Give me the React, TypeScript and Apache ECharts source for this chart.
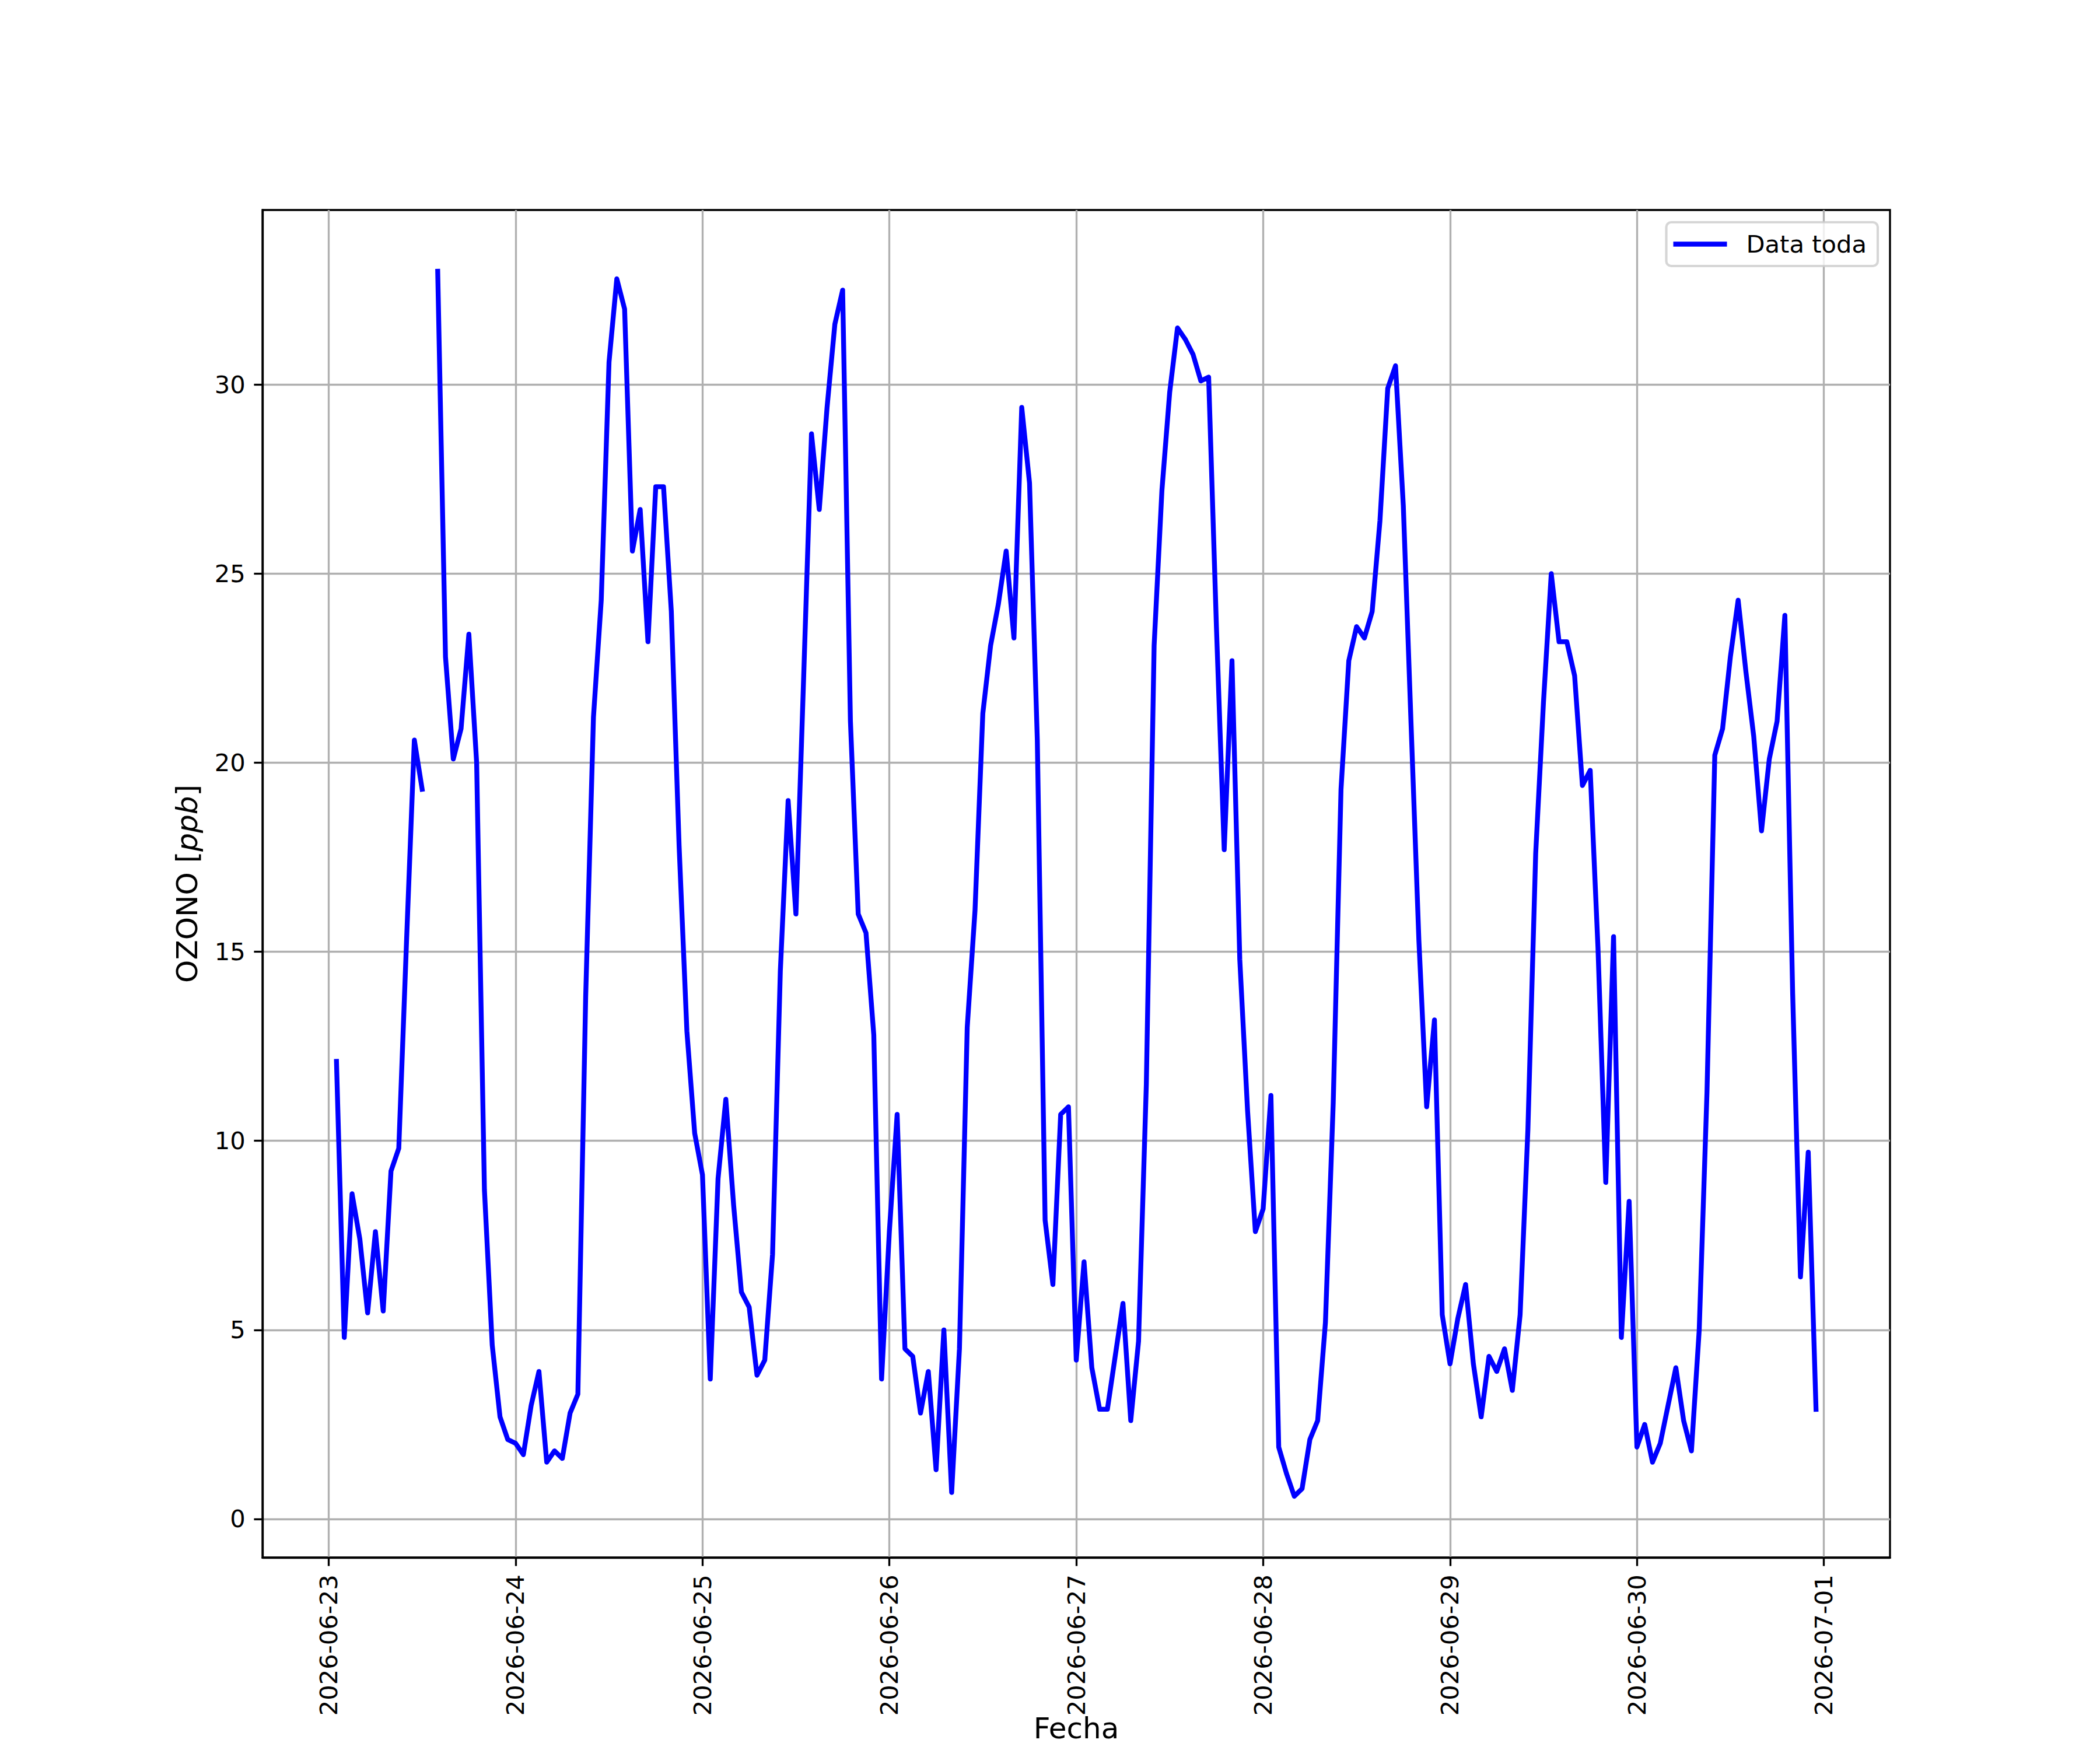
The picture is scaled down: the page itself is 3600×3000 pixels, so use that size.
import React, { useEffect, useRef } from 'react';
import * as echarts from 'echarts';

// ---- data (hourly ozone, ppb) ----
const startDay = Date.UTC(2026, 5, 23); // 2026-06-23 00:00
const firstHour = 1; // first sample at 01:00

const jun23 = [12.1, 4.8, 8.6, 7.4, 5.45, 7.6, 5.5, 9.2, 9.8, 15.3, 20.6, 19.3, null, 33.0, 22.8, 20.1, 20.9, 23.4, 20.0, 8.7, 4.6, 2.7, 2.1];
const jun24 = [2.0, 1.7, 3.0, 3.9, 1.5, 1.8, 1.6, 2.8, 3.3, 13.8, 21.2, 24.3, 30.6, 32.8, 32.0, 25.6, 26.7, 23.2, 27.3, 27.3, 24.0, 17.8, 12.9, 10.2];
const jun25 = [9.1, 3.7, 9.0, 11.1, 8.3, 6.0, 5.6, 3.8, 4.2, 7.0, 14.5, 19.0, 16.0, 22.3, 28.7, 26.7, 29.4, 31.6, 32.5, 21.1, 16.0, 15.5, 12.8, 3.7];
const jun26 = [7.6, 10.7, 4.5, 4.3, 2.8, 3.9, 1.3, 5.0, 0.7, 4.5, 13.0, 16.1, 21.3, 23.1, 24.2, 25.6, 23.3, 29.4, 27.4, 20.6, 7.9, 6.2, 10.7, 10.9];
const jun27 = [4.2, 6.8, 4.0, 2.9, 2.9, 4.3, 5.7, 2.6, 4.7, 11.5, 23.1, 27.2, 29.8, 31.5, 31.2, 30.8, 30.1, 30.2, 23.6, 17.7, 22.7, 14.8, 10.8, 7.6];
const jun28 = [8.2, 11.2, 1.9, 1.2, 0.6, 0.8, 2.1, 2.6, 5.2, 11.0, 19.3, 22.7, 23.6, 23.3, 24.0, 26.4, 29.9, 30.5, 26.8, 21.0, 15.3, 10.9, 13.2, 5.4];
const jun29 = [4.1, 5.3, 6.2, 4.1, 2.7, 4.3, 3.9, 4.5, 3.4, 5.4, 10.3, 17.6, 21.6, 25.0, 23.2, 23.2, 22.3, 19.4, 19.8, 15.1, 8.9, 15.4, 4.8, 8.4];
const jun30 = [1.9, 2.5, 1.5, 2.0, 3.0, 4.0, 2.6, 1.8, 5.0, 11.3, 20.2, 20.9, 22.8, 24.3, 22.4, 20.7, 18.2, 20.1, 21.1, 23.9, 13.9, 6.4, 9.7, 2.9];

const dayTicks = ['2026-06-23', '2026-06-24', '2026-06-25', '2026-06-26', '2026-06-27', '2026-06-28', '2026-06-29', '2026-06-30', '2026-07-01'];
const yTicks = [0, 5, 10, 15, 20, 25, 30];

const seriesName = 'Data toda';
const xTitle = 'Fecha';

// ---- layout / style ----
const W = 3600;
const H = 3000;
const PT = 300 / 72;
const FONT = 'DejaVu Sans';
const HOUR = 3600 * 1000;

function fmtDate(v: number) {
  const d = new Date(Math.round(v / HOUR) * HOUR);
  const mm = String(d.getUTCMonth() + 1).padStart(2, '0');
  const dd = String(d.getUTCDate()).padStart(2, '0');
  return `${d.getUTCFullYear()}-${mm}-${dd}`;
}

export default function App() {
  const ref = useRef<HTMLDivElement>(null);

  useEffect(() => {
    document.body.style.margin = '0';
    if (!ref.current) return;
    const chart = echarts.init(ref.current, undefined, { renderer: 'svg' });

    const values = [...jun23, ...jun24, ...jun25, ...jun26, ...jun27, ...jun28, ...jun29, ...jun30];
    const data = values.map((v, i) => [startDay + (firstHour + i) * HOUR, v == null ? '-' : v]);
    const tickTimes = dayTicks.map((s) => Date.parse(s + 'T00:00:00Z'));

    const lastHour = firstHour + values.length - 1;
    const span = lastHour - firstHour;
    const xMin = startDay + (firstHour - 0.05 * span) * HOUR;
    const xMax = startDay + (lastHour + 0.05 * span) * HOUR;

    const axisLine = { show: true, onZero: false, lineStyle: { color: '#000', width: 0.8 * PT } };
    const axisTick = { show: true, length: 3.5 * PT, lineStyle: { color: '#000', width: 0.8 * PT } };
    const splitLine = { show: true, lineStyle: { color: '#b0b0b0', width: 0.8 * PT } };
    const labelStyle = { fontFamily: FONT, fontSize: 10 * PT, color: '#000' };
    const titleStyle = { fontFamily: FONT, fontSize: 12 * PT, color: '#000' };

    chart.setOption({
      animation: false,
      backgroundColor: '#ffffff',
      textStyle: { fontFamily: FONT },
      grid: {
        left: 450,
        top: 360,
        width: 2790,
        height: 2310,
        containLabel: false,
        outerBoundsMode: 'none',
        show: true,
        borderColor: '#000',
        borderWidth: 0.8 * PT,
        backgroundColor: 'transparent',
      },
      legend: {
        show: true,
        right: 381,
        top: 381,
        orient: 'horizontal',
        icon: 'rect',
        itemWidth: 92,
        itemHeight: 2 * PT,
        itemGap: 0,
        padding: [16, 19, 16, 12],
        backgroundColor: 'rgba(255,255,255,0.8)',
        borderColor: 'rgba(204,204,204,0.8)',
        borderWidth: 1 * PT,
        borderRadius: 2 * PT,
        textStyle: { ...labelStyle, padding: [0, 0, 0, 28], lineHeight: 43 },
        data: [seriesName],
      },
      xAxis: {
        type: 'value',
        min: xMin,
        max: xMax,
        name: xTitle,
        nameLocation: 'middle',
        nameGap: 270,
        nameMoveOverlap: false,
        nameTextStyle: { ...titleStyle, lineHeight: 46 },
        axisLine,
        axisTick: { ...axisTick, customValues: tickTimes },
        axisLabel: {
          ...labelStyle,
          customValues: tickTimes,
          rotate: 90,
          margin: 7 * PT,
          formatter: (v: number) => fmtDate(v),
        },
        splitLine,
      },
      yAxis: {
        type: 'value',
        min: -1.02,
        max: 34.62,
        name: 'OZONO [{i|ppb}]',
        nameLocation: 'middle',
        nameGap: 104,
        nameTextStyle: {
          ...titleStyle,
          rich: { i: { fontFamily: FONT, fontSize: 12 * PT, fontStyle: 'italic', color: '#000' } },
        },
        axisLine,
        axisTick: { ...axisTick, customValues: yTicks },
        axisLabel: { ...labelStyle, customValues: yTicks, margin: 7 * PT },
        splitLine,
      },
      series: [
        {
          name: seriesName,
          type: 'line',
          data,
          showSymbol: false,
          symbol: 'none',
          connectNulls: false,
          itemStyle: { color: '#0000ff' },
          lineStyle: { color: '#0000ff', width: 2 * PT, cap: 'square', join: 'round' },
          z: 3,
        },
      ],
    });

    return () => chart.dispose();
  }, []);

  return <div ref={ref} style={{ position: 'absolute', left: 0, top: 0, width: W, height: H }} />;
}
